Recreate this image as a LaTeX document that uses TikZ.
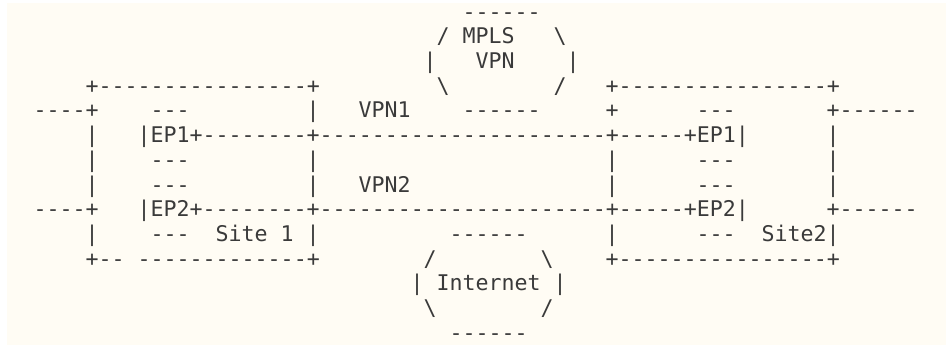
\documentclass[tikz,border=0pt]{standalone}
\usepackage{fontspec}
\setmonofont{DejaVu Sans Mono}
\definecolor{bg}{HTML}{FFFCF4}
\definecolor{ink}{HTML}{3A3A3A}
\begin{document}
\begin{tikzpicture}[x=1pt,y=1pt,
  txt/.style={inner sep=0pt, anchor=base west, font=\ttfamily\fontsize{21.6}{24}\selectfont, text=ink}]
\useasboundingbox (0,0) rectangle (946,345);
\fill[white] (0,0) rectangle (946,345);
\fill[bg] (7,0) rectangle (946,342);
\newcommand\asciiseg[4]{\node[txt] (#1) at ({33.5+13*#2},{325.8-24.7*#3}) {#4};}
% MPLS cloud
\asciiseg{m0}{33}{0}{------}
\asciiseg{m1}{31}{1}{/ MPLS}
\asciiseg{m1r}{40}{1}{\textbackslash}
\asciiseg{m2l}{30}{2}{|}
\asciiseg{m2}{34}{2}{VPN}
\asciiseg{m2r}{41}{2}{|}
\asciiseg{m3l}{31}{3}{\textbackslash}
\asciiseg{m3r}{40}{3}{/}
\asciiseg{m4}{33}{4}{------}
% Site boxes top
\asciiseg{s1top}{4}{3}{+----------------+}
\asciiseg{s2top}{44}{3}{+----------------+}
% Row 4
\asciiseg{l4}{0}{4}{----+}
\asciiseg{e1t}{9}{4}{---}
\asciiseg{s1r4}{21}{4}{|}
\asciiseg{vpn1}{25}{4}{VPN1}
\asciiseg{s2l4}{44}{4}{+}
\asciiseg{f1t}{51}{4}{---}
\asciiseg{r4}{61}{4}{+------}
% Row 5
\asciiseg{s1l5}{4}{5}{|}
\asciiseg{vpn1line}{8}{5}{|EP1+--------+----------------------+-----+EP1|}
\asciiseg{s2r5}{61}{5}{|}
% Row 6
\asciiseg{s1l6}{4}{6}{|}
\asciiseg{e1b}{9}{6}{---}
\asciiseg{s1r6}{21}{6}{|}
\asciiseg{s2l6}{44}{6}{|}
\asciiseg{f1b}{51}{6}{---}
\asciiseg{s2r6}{61}{6}{|}
% Row 7
\asciiseg{s1l7}{4}{7}{|}
\asciiseg{e2t}{9}{7}{---}
\asciiseg{s1r7}{21}{7}{|}
\asciiseg{vpn2}{25}{7}{VPN2}
\asciiseg{s2l7}{44}{7}{|}
\asciiseg{f2t}{51}{7}{---}
\asciiseg{s2r7}{61}{7}{|}
% Row 8
\asciiseg{l8}{0}{8}{----+}
\asciiseg{vpn2line}{8}{8}{|EP2+--------+----------------------+-----+EP2|}
\asciiseg{r8}{61}{8}{+------}
% Row 9
\asciiseg{s1l9}{4}{9}{|}
\asciiseg{e2b}{9}{9}{---}
\asciiseg{site1}{14}{9}{Site 1}
\asciiseg{s1r9}{21}{9}{|}
\asciiseg{i0}{32}{9}{------}
\asciiseg{s2l9}{44}{9}{|}
\asciiseg{f2b}{51}{9}{---}
\asciiseg{site2}{56}{9}{Site2|}
% Row 10
\asciiseg{s1bot}{4}{10}{+-- -------------+}
\asciiseg{i1l}{30}{10}{/}
\asciiseg{i1r}{39}{10}{\textbackslash}
\asciiseg{s2bot}{44}{10}{+----------------+}
% Internet cloud
\asciiseg{i2l}{29}{11}{|}
\asciiseg{inet}{31}{11}{Internet}
\asciiseg{i2r}{40}{11}{|}
\asciiseg{i3l}{30}{12}{\textbackslash}
\asciiseg{i3r}{39}{12}{/}
\asciiseg{i4}{32}{13}{------}
\end{tikzpicture}
\end{document}
